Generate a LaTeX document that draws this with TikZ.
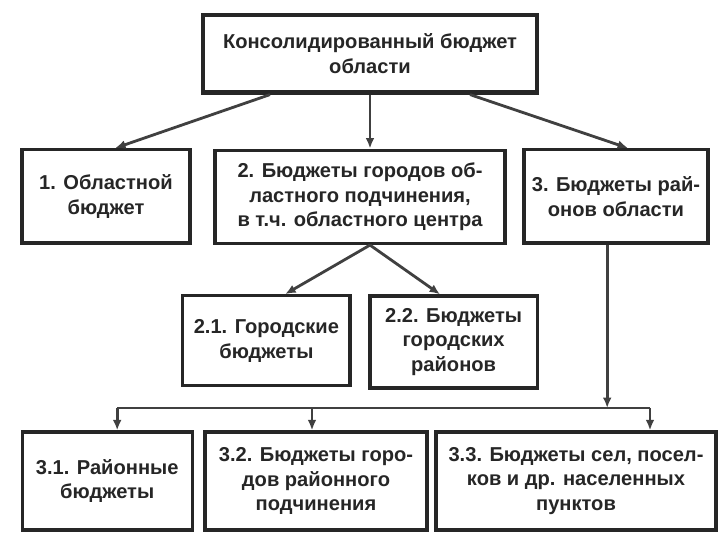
\documentclass[tikz,border=0pt]{standalone}
\usepackage{fontspec}
\setmainfont{Liberation Sans}
\usetikzlibrary{arrows.meta}

\begin{document}
\begin{tikzpicture}

        \tikzset{every node/.style={rectangle, draw=black!85, fill=white, line width=2.4pt, align=center,
                 font=\fontsize{14.3}{17.7}\selectfont\bfseries, text=black!85, inner sep=2pt},
                 >={Latex[length=2.6mm, width=2.2mm]},
                 link/.style={->, draw=black!75, line width=2pt}}

        \useasboundingbox (0, 0) rectangle (18, 13.5);

        % top node
        \node[minimum width=8.35cm, minimum height=1.93cm, line width=3.4pt] at (9.25, 12.16) (top)
            {Консолидированный бюджет\\области};

        % second row, left, middle and right
        \node[minimum width=4.2cm, minimum height=2.33cm] at (2.65, 8.59) (a) {1. Областной\\бюджет};
        \node[minimum width=7.25cm, minimum height=2.33cm] at (9.0, 8.58) (b)
            {2. Бюджеты городов об-\\ластного подчинения,\\в т.ч. областного центра};
        \node[minimum width=4.6cm, minimum height=2.33cm] at (15.4, 8.59) (c) {3. Бюджеты рай-\\онов области};

        % two nodes below the middle one
        \node[minimum width=4.18cm, minimum height=2.25cm] at (6.66, 4.98) (d) {2.1. Городские\\бюджеты};
        \node[minimum width=4.18cm, minimum height=2.3cm] at (11.34, 4.95) (e) {2.2. Бюджеты\\городских\\районов};

        % last row
        \node[minimum width=4.25cm, minimum height=2.45cm] at (2.68, 1.475) (f) {3.1. Районные\\бюджеты};
        \node[minimum width=5.55cm, minimum height=2.45cm] at (7.9, 1.475) (g)
            {3.2. Бюджеты горо-\\дов районного\\подчинения};
        \node[minimum width=7.0cm, minimum height=2.45cm] at (14.4, 1.475) (h)
            {3.3. Бюджеты сел, посел-\\ков и др. населенных\\пунктов};

        % bus line above the last row
        \coordinate (busl) at (2.93, 3.3);
        \coordinate (busm) at (7.8, 3.3);
        \coordinate (busc) at (15.18, 3.3);
        \coordinate (busr) at (16.25, 3.3);

        % edges from the top
        \draw[link] ([xshift=-2.5cm]top.south) -- ([xshift=0.23cm]a.north);
        \draw[link] (top.south) -- (top.south |- b.north);
        \draw[link] ([xshift=2.5cm]top.south) -- ([xshift=0.3cm]c.north);

        % second layer
        \draw[link] ([xshift=0.25cm]b.south) -- ([xshift=0.47cm]d.north);
        \draw[link] ([xshift=0.25cm]b.south) -- ([xshift=-0.34cm]e.north);

        % third layer
        \draw[link] (c.south -| busc) -- (busc);
        \draw[draw=black!75, line width=2pt] (busl) -- (busr);
        \draw[link] (busl) -- (busl |- f.north);
        \draw[link] (busm) -- (busm |- g.north);
        \draw[link] (busr) -- (busr |- h.north);

    \end{tikzpicture}
\end{document}
